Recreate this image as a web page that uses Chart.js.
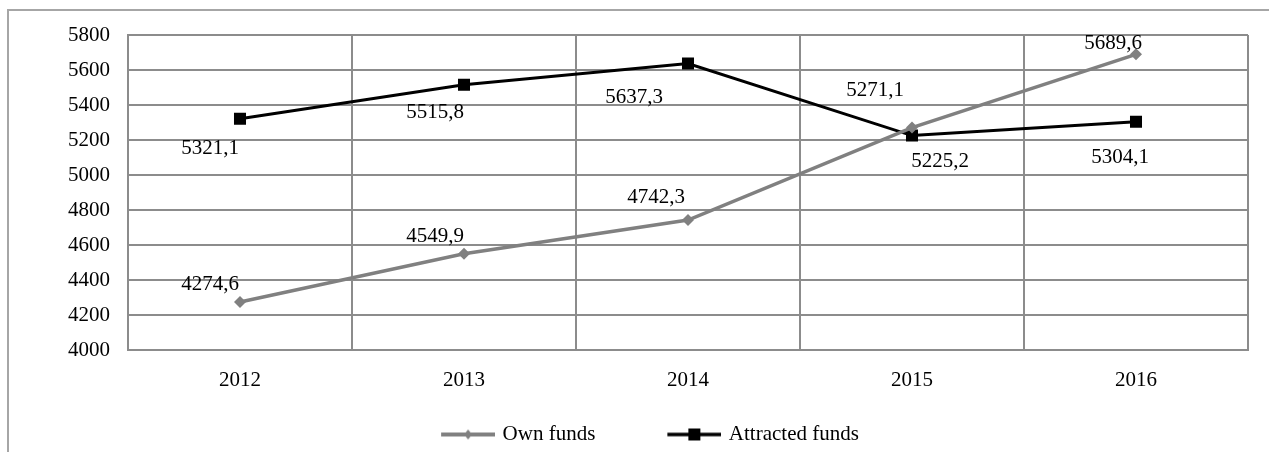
<!DOCTYPE html>
<html>
<head>
<meta charset="utf-8">
<script src="https://cdn.jsdelivr.net/npm/chart.js@4"></script>
<style>
  html, body { margin: 0; padding: 0; background: #fff; overflow: hidden; }
  #frame { position: absolute; left: 7px; top: 9px; width: 1282px; height: 470px; border: 2px solid #a6a6a6; }
  #wrap { position: absolute; left: 1px; top: 0px; width: 1278px; height: 445px; }
</style>
</head>
<body>
<div id="frame"><div id="wrap"><canvas id="chart"></canvas></div></div>
<script>
// data
const years = ['2012', '2013', '2014', '2015', '2016'];
const ownFunds = [4274.6, 4549.9, 4742.3, 5271.1, 5689.6];
const attractedFunds = [5321.1, 5515.8, 5637.3, 5225.2, 5304.1];
const yTicks = [4000, 4200, 4400, 4600, 4800, 5000, 5200, 5400, 5600, 5800];

// label offsets from each point (px)
const ownLabelPos = [[-30, -17], [-29, -17], [-32, -23], [-37, -37], [-23, -11]];
const attrLabelPos = [[-30, 30], [-29, 28], [-54, 34], [28, 26], [-16, 36]];

const FONT = '"Liberation Serif", "Times New Roman", serif';
const GRID = '#8c8c8c';
const ICON_GAP = 65; // blank space left of each legend icon

function legendIcon(color, style) {
  const c = document.createElement('canvas');
  c.width = 54 + ICON_GAP; c.height = 14;
  const g = c.getContext('2d');
  g.translate(ICON_GAP, 0);
  g.strokeStyle = color; g.fillStyle = color;
  g.lineWidth = style === 'rect' ? 3.5 : 4;
  g.beginPath(); g.moveTo(0, 7); g.lineTo(54, 7); g.stroke();
  if (style === 'rect') {
    g.fillRect(21, 1, 12, 12);
  } else {
    g.beginPath(); g.moveTo(27, 2); g.lineTo(31, 7); g.lineTo(27, 12); g.lineTo(23, 7); g.closePath(); g.fill();
  }
  return c;
}

const labelPlugin = {
  id: 'valueLabels',
  beforeDraw(chart) {
    // legend is centred on the whole frame, not on the plot
    chart.legend.left = 0;
    chart.legend.right = 1218;
  },
  afterDatasetsDraw(chart) {
    const ctx = chart.ctx;
    ctx.save();
    ctx.font = '21px ' + FONT;
    ctx.fillStyle = '#000';
    ctx.textAlign = 'center';
    ctx.textBaseline = 'middle';
    chart.data.datasets.forEach((ds, di) => {
      const pos = di === 0 ? ownLabelPos : attrLabelPos;
      chart.getDatasetMeta(di).data.forEach((pt, i) => {
        const txt = ds.data[i].toFixed(1).replace('.', ',');
        ctx.fillText(txt, pt.x + pos[i][0], pt.y + pos[i][1]);
      });
    });
    ctx.restore();
  }
};

const ownIcon = legendIcon('#808080', 'rectRot');
const attrIcon = legendIcon('#000000', 'rect');

new Chart(document.getElementById('chart'), {
  type: 'line',
  data: {
    labels: years,
    datasets: [
      {
        label: 'Own funds',
        data: ownFunds,
        borderColor: '#808080',
        backgroundColor: '#808080',
        borderWidth: 3.5,
        pointStyle: 'rectRot',
        pointRadius: 6,
        pointBorderWidth: 0,
        tension: 0
      },
      {
        label: 'Attracted funds',
        data: attractedFunds,
        borderColor: '#000000',
        backgroundColor: '#000000',
        borderWidth: 3,
        pointStyle: 'rect',
        pointRadius: 8.5,
        pointBorderWidth: 0,
        tension: 0
      }
    ]
  },
  options: {
    responsive: true,
    maintainAspectRatio: false,
    animation: false,
    layout: { padding: { top: 24, right: 40, bottom: 1, left: 0 } },
    scales: {
      x: {
        offset: true,
        grid: { offset: true, color: GRID, lineWidth: 2, drawTicks: false },
        border: { color: GRID, width: 2 },
        ticks: { color: '#000', padding: 18, font: { family: FONT, size: 21 } },
        afterFit(s) { s.height = 64; }
      },
      y: {
        min: 4000,
        max: 5800,
        afterBuildTicks(s) { s.ticks = yTicks.map(v => ({ value: v })); },
        grid: { color: GRID, lineWidth: 2, drawTicks: false },
        border: { color: GRID, width: 2 },
        ticks: { color: '#000', padding: 18, font: { family: FONT, size: 21 }, callback: v => String(v) },
        afterFit(s) { s.width = 118; s.paddingTop = 0; s.paddingBottom = 0; }
      }
    },
    plugins: {
      legend: {
        position: 'bottom',
        labels: {
          color: '#000',
          font: { family: FONT, size: 21 },
          usePointStyle: true,
          pointStyleWidth: 48 + ICON_GAP,
          boxHeight: 14,
          padding: 10,
          generateLabels(chart) {
            return chart.data.datasets.map((ds, i) => ({
              text: ds.label,
              pointStyle: i === 0 ? ownIcon : attrIcon,
              fillStyle: ds.borderColor,
              strokeStyle: ds.borderColor,
              lineWidth: 0,
              fontColor: '#000',
              datasetIndex: i,
              hidden: false
            }));
          }
        }
      },
      tooltip: { enabled: false }
    }
  },
  plugins: [labelPlugin]
});
</script>
</body>
</html>
